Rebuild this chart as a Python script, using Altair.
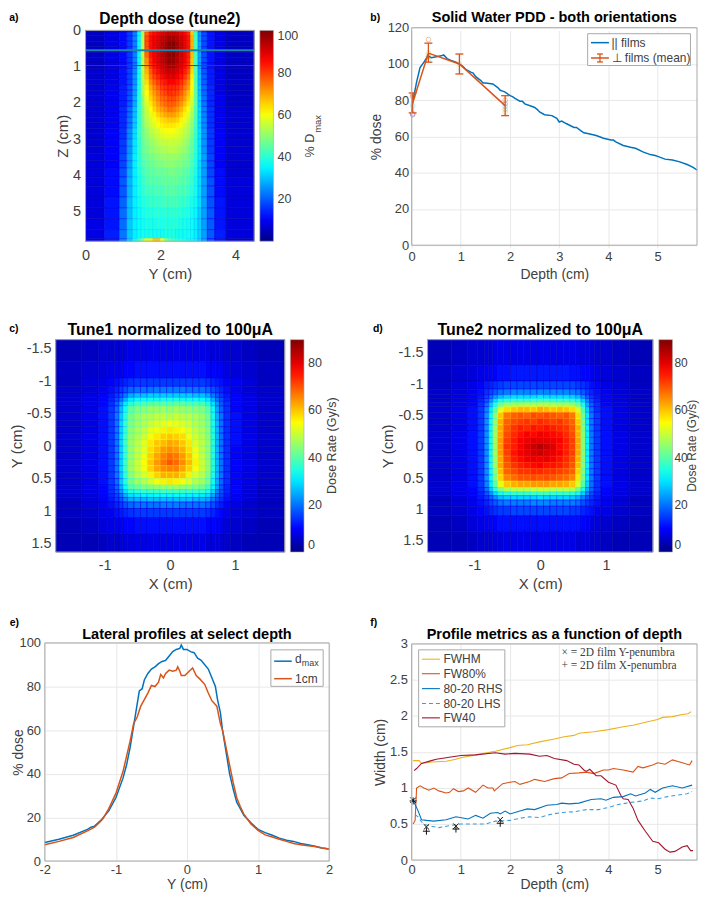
import altair as alt
import pandas as pd

FONT = "Liberation Sans"
TICK = "#404040"
FRAME = "#a8a8a8"
GRID = "#e8e8e8"
BLUE, ORANGE, YELLOW, WINE, LBLUE = "#0072BD", "#D95319", "#EDB120", "#A2142F", "#3D9BDC"

JET_F = [0.0, 0.1094, 0.3594, 0.6094, 0.8594, 1.0]
JET_C = ["#000084", "#0000ff", "#00ffff", "#ffff00", "#ff0000", "#800000"]

A_X = [0,0.5,0.9,1.1,1.25,1.38,1.48,1.58,1.7,1.8,1.9,2,2.1,2.2,2.3,2.4,2.5,2.6,2.7,2.8,2.9,3,3.1,3.25,3.45,3.75,4.5]
A_Y = [0,.04,.15,.3,.45,.6,.75,.9,1.05,1.2,1.35,1.5,1.65,1.8,1.95,2.1,2.25,2.4,2.55,2.7,2.85,3,3.2,3.4,3.6,3.8,4.05,4.3,4.6,4.9,5.2,5.5,5.75,5.82]
A_V = [
[5,7,10,14,20,30,45,62,68,70,72,74,75,76,76,75,73,70,66,52,35,24,16,11,7,5],
[6,9,12,17,24,36,52,76,83,85,87,89,91,92,92,91,88,86,82,66,42,27,19,13,9,6],
[6,9,12,17,24,36,53,78,85,87,89,92,94,96,96,94,91,88,84,68,43,27,19,13,9,6],
[6,9,12,17,24,36,54,78,85,88,90,93,96,99,100,96,92,88,84,68,43,28,19,13,9,6],
[6,9,12,17,24,36,54,77,85,87,90,93,97,99,99,96,92,88,84,68,43,28,19,13,9,6],
[6,9,12,17,24,36,54,75,84,87,90,93,96,98,99,95,91,88,83,67,43,28,19,13,9,6],
[6,9,12,17,24,36,54,72,82,86,89,92,95,98,97,94,90,87,82,66,43,28,19,13,9,6],
[6,9,12,17,24,36,54,70,80,84,87,90,93,96,96,92,89,85,80,65,43,28,19,13,9,6],
[7,9,13,18,25,37,54,68,77,82,85,88,91,92,92,90,87,83,78,64,44,29,20,14,9,6],
[7,9,13,18,26,38,53,66,75,79,82,85,88,89,90,87,84,80,75,62,44,30,21,14,9,6],
[7,9,13,18,26,38,53,64,72,76,79,82,84,86,86,84,81,77,72,61,44,30,21,14,9,6],
[7,10,14,19,27,39,52,62,69,73,76,79,81,82,82,81,78,74,70,60,45,31,22,15,9,6],
[7,10,14,19,27,39,52,61,67,71,74,77,79,81,80,79,76,72,67,59,45,31,22,15,9,6],
[7,10,14,20,28,40,50,59,65,69,72,75,76,78,78,76,73,70,65,57,45,32,23,15,10,6],
[7,10,14,20,28,40,50,58,63,67,70,73,75,76,76,74,71,67,63,56,45,32,23,15,10,6],
[7,10,15,22,30,41,49,56,61,65,68,70,72,74,73,71,68,64,60,54,44,33,24,16,10,7],
[7,10,15,22,30,41,49,55,59,62,65,67,69,70,70,68,65,62,58,53,44,33,24,16,10,7],
[7,10,15,23,31,41,48,54,57,60,62,64,65,66,66,65,62,59,56,51,43,33,25,16,10,7],
[7,10,15,23,31,41,48,53,56,58,60,62,63,63,63,62,60,57,54,50,43,33,25,16,10,7],
[7,11,16,25,33,42,47,51,54,56,57,59,60,60,60,59,57,55,53,49,42,34,26,17,11,7],
[7,11,16,25,33,42,47,50,53,54,56,57,58,58,58,57,56,54,52,48,42,34,26,17,11,7],
[7,11,17,26,34,41,46,49,51,52,54,55,55,56,55,55,54,52,50,47,41,34,26,17,11,7],
[7,11,17,26,34,41,46,48,50,51,52,53,53,54,54,53,52,51,49,46,41,34,26,17,11,7],
[8,11,18,27,35,41,45,47,48,49,50,51,51,51,51,51,50,49,48,45,40,34,27,18,11,7],
[8,11,18,27,35,41,44,46,47,48,49,49,50,50,50,49,49,48,47,44,40,33,27,18,11,7],
[8,12,19,28,35,40,43,45,46,46,47,47,47,48,48,47,47,46,45,43,39,33,27,18,12,7],
[8,12,20,29,35,39,42,44,45,45,45,46,46,46,46,46,45,45,44,42,38,33,27,19,12,8],
[8,12,20,29,35,39,41,43,43,44,44,44,45,45,45,44,44,44,43,41,38,33,27,19,12,8],
[8,13,21,30,35,38,40,41,42,42,42,43,43,43,43,43,42,42,41,39,37,33,27,19,13,8],
[8,13,22,30,35,37,39,40,40,41,41,41,41,41,41,41,41,40,40,38,36,32,27,20,13,8],
[9,13,22,31,35,37,38,39,39,39,40,40,40,40,40,40,39,39,38,37,35,32,27,20,13,8],
[9,14,23,31,35,37,38,38,38,38,38,38,39,39,39,38,38,38,38,37,35,32,27,20,14,8],
[9,14,24,32,38,43,50,58,62,66,66,60,50,46,44,42,41,40,38,38,36,33,28,20,14,8],
]
A_LINE_Z = [0.55, 0.97]

C_X = [-1.75,-1.35,-1.1,-0.95,-0.85,-0.78,-0.72,-0.65,-0.55,-0.45,-0.35,-0.25,-0.15,-0.05,0.05,0.15,0.25,0.35,0.45,0.55,0.63,0.7,0.76,0.83,0.93,1.1,1.35,1.76]
C_Y = [-1.64,-1.3,-1.05,-0.92,-0.82,-0.75,-0.69,-0.62,-0.52,-0.4,-0.3,-0.2,-0.1,0,0.1,0.2,0.3,0.4,0.5,0.6,0.67,0.73,0.79,0.86,0.96,1.1,1.35,1.63]
C_V = [
[4,5,6,6,7,7,7,8,8,8,8,8,8,8,8,8,8,8,8,8,7,7,7,6,6,5,4],
[5,6,7,8,9,9,10,10,11,11,11,11,11,11,11,11,11,11,11,10,10,9,9,8,7,6,5],
[5,7,8,10,11,12,13,14,15,15,15,15,15,15,15,15,15,15,15,14,13,12,11,10,9,7,5],
[6,7,9,11,13,15,17,19,20,20,20,21,21,21,21,21,20,20,20,19,17,15,13,11,9,7,6],
[6,8,10,12,15,18,21,25,27,27,28,28,28,28,28,28,28,27,27,25,21,18,15,12,10,8,6],
[6,8,10,13,17,21,26,31,33,34,34,34,35,35,35,34,34,34,33,31,26,21,17,13,10,8,6],
[6,8,10,14,19,25,31,36,39,40,40,41,41,41,41,41,40,40,39,36,30,24,18,14,10,8,6],
[6,8,11,15,20,27,34,41,44,45,46,46,47,46,47,46,46,45,44,41,33,25,19,14,10,8,6],
[6,8,11,15,21,28,36,43,46,48,48,49,50,49,50,49,49,48,46,43,34,26,20,14,11,8,6],
[6,8,11,15,21,29,37,44,47,49,50,52,53,54,53,52,51,49,47,44,35,27,20,14,11,8,6],
[6,8,11,15,21,29,37,45,48,50,53,54,56,57,56,55,53,50,48,45,35,27,20,14,11,8,6],
[6,8,11,15,21,29,38,45,48,51,54,57,59,60,59,58,54,51,48,45,36,27,20,14,11,8,6],
[6,8,11,15,21,29,38,46,49,53,57,60,61,63,62,60,57,52,49,46,36,27,20,14,11,8,6],
[6,8,11,15,21,29,38,46,50,53,58,61,64,65,64,62,58,54,49,46,36,27,20,14,10,8,6],
[6,8,11,15,21,29,38,46,50,54,59,63,66,68,67,64,60,55,50,46,36,27,20,14,10,8,6],
[6,8,11,15,21,29,38,46,50,55,60,64,67,70,68,65,61,56,50,46,36,27,20,14,10,8,6],
[6,8,11,15,21,29,38,46,50,54,59,63,65,66,66,63,59,55,50,46,36,27,20,14,10,8,6],
[6,8,11,15,21,28,37,45,49,52,56,59,62,62,62,60,56,52,49,45,35,27,20,14,10,8,6],
[6,8,11,15,20,28,36,43,47,49,51,54,56,57,56,54,52,49,47,43,34,26,19,14,10,8,6],
[6,8,10,14,19,26,33,40,42,44,44,45,46,46,46,45,45,44,42,39,32,25,18,13,10,7,5],
[6,8,10,14,18,24,30,35,37,38,38,38,39,39,39,38,38,38,37,35,29,22,17,13,10,7,5],
[6,7,10,13,16,21,26,30,31,32,32,33,33,33,33,33,32,32,31,30,25,20,16,12,9,7,5],
[5,7,9,12,15,18,22,25,26,26,27,27,27,27,27,27,27,26,26,25,21,17,14,11,9,7,5],
[5,7,9,11,13,15,17,19,20,20,20,20,21,21,21,20,20,20,20,19,17,14,12,10,8,6,5],
[5,6,8,9,11,12,13,14,15,15,15,15,15,15,15,15,15,15,15,14,13,11,10,9,7,6,5],
[4,5,7,8,9,9,10,10,11,11,11,11,11,11,11,11,11,11,11,10,10,9,8,7,6,5,4],
[4,4,5,6,6,7,7,7,8,8,8,8,8,8,8,8,8,8,8,7,7,7,6,6,5,4,4],
]

D_X = [-1.71,-1.35,-1.1,-0.95,-0.85,-0.78,-0.72,-0.65,-0.56,-0.45,-0.35,-0.25,-0.15,-0.05,0.05,0.15,0.25,0.35,0.45,0.54,0.62,0.69,0.75,0.82,0.92,1.1,1.35,1.71]
D_Y = [-1.71,-1.3,-1.05,-0.92,-0.83,-0.77,-0.71,-0.64,-0.55,-0.45,-0.35,-0.25,-0.15,-0.05,0.05,0.15,0.25,0.35,0.45,0.55,0.65,0.72,0.78,0.85,0.95,1.1,1.35,1.68]
D_V = [
[4,5,6,6,7,7,8,8,8,8,8,8,8,8,8,8,8,8,8,8,7,7,7,6,6,5,4],
[5,6,7,8,9,10,10,11,11,12,12,12,12,12,12,12,12,12,11,11,10,10,9,8,7,6,5],
[5,7,8,10,12,13,14,15,16,16,16,16,16,16,16,16,16,16,16,15,14,13,11,10,8,7,5],
[6,7,9,11,14,16,18,20,21,22,22,22,22,22,22,22,22,22,21,20,18,15,13,11,9,7,6],
[6,8,10,12,16,20,24,27,29,30,30,30,30,31,30,30,30,30,29,27,23,19,15,12,10,8,6],
[6,8,10,13,18,24,30,35,37,38,38,38,39,39,39,38,38,38,37,35,29,23,17,13,10,8,6],
[6,8,10,14,20,28,36,43,46,47,47,48,48,48,48,48,47,47,46,43,35,26,19,14,10,8,6],
[6,8,11,15,22,31,41,52,58,60,61,61,60,62,61,60,61,60,58,52,40,29,20,14,11,8,6],
[6,8,11,15,23,33,45,60,67,69,70,69,71,70,71,70,69,70,67,58,43,31,21,15,11,8,6],
[6,8,11,15,23,34,46,62,69,71,72,73,72,74,73,72,73,71,69,60,44,31,21,15,11,8,6],
[6,8,11,15,23,34,47,63,70,73,75,74,76,75,76,75,74,73,70,62,45,32,21,15,11,8,6],
[6,8,11,15,23,34,47,63,71,74,76,78,77,79,78,77,76,74,71,62,45,32,21,15,11,8,6],
[6,8,11,15,23,34,47,64,72,75,78,79,81,80,80,79,78,75,72,63,45,32,21,15,11,8,6],
[6,8,11,15,23,34,47,64,73,75,78,81,83,85,83,81,77,75,72,63,45,32,21,15,11,8,6],
[6,8,11,15,23,34,47,64,72,76,79,80,82,83,81,80,78,75,72,63,45,32,21,15,11,8,6],
[6,8,11,15,23,34,47,63,71,75,77,79,80,79,80,78,76,74,71,62,45,32,21,15,11,8,6],
[6,8,11,15,23,34,47,63,70,73,75,76,77,78,76,76,75,73,70,61,45,32,21,15,11,8,6],
[6,8,11,15,23,33,45,61,69,71,73,73,74,74,73,73,72,71,69,59,44,31,21,15,11,8,6],
[6,8,11,15,23,33,44,59,66,68,70,70,71,70,71,70,69,68,66,57,43,31,21,15,11,8,6],
[6,8,11,15,22,31,41,53,60,62,63,63,64,64,64,63,63,62,60,52,40,29,20,14,11,8,6],
[6,8,10,14,20,28,36,44,48,49,49,49,50,50,50,49,49,49,48,43,35,26,19,14,10,8,6],
[6,8,10,13,18,24,30,35,37,38,38,38,39,39,39,38,38,38,37,35,29,23,17,13,10,8,6],
[5,7,9,12,15,19,23,27,28,29,29,29,29,30,29,29,29,29,28,26,22,18,15,12,9,7,5],
[5,7,9,11,13,16,18,20,21,21,21,21,22,22,22,21,21,21,21,20,17,15,13,11,9,7,5],
[5,6,8,10,11,13,14,15,15,16,16,16,16,16,16,16,16,16,15,15,13,12,11,9,8,6,5],
[4,5,7,8,9,10,10,11,11,11,11,11,11,11,11,11,11,11,11,11,10,9,8,7,6,5,4],
[4,4,5,6,6,7,7,7,8,8,8,8,8,8,8,8,8,8,8,7,7,7,6,6,5,4,4],
]

B_X = [0,0.02,0.05,0.1,0.17,0.25,0.33,0.4,0.5,0.6,0.65,0.72,0.8,0.9,1.0,1.05,1.1,1.2,1.25,1.3,1.4,1.45,1.5,1.65,1.75,1.8,1.85,1.9,2,2.05,2.1,2.2,2.25,2.3,2.45,2.5,2.55,2.6,2.7,2.85,2.95,3,3.05,3.15,3.3,3.35,3.45,3.5,3.6,3.75,3.9,4.05,4.1,4.15,4.3,4.45,4.55,4.7,4.85,4.95,5,5.15,5.3,5.45,5.6,5.72,5.8]
B_Y = [73,80,83,90,98,101,104.5,103.5,104,104.5,105,103,102,101,99.5,98.5,97,95.5,95,93,91,89.5,89.5,89,87,85.5,85,84.5,82.5,82,81,79.5,79.5,78,76.5,76,75,73.5,72,71.5,70,68,68.5,67,65,65,63,62,61.5,60.5,59,58,58,57,55,54,53.5,51.5,50,49.5,49,47.5,47,46,44.5,43,41.5]
ERR_X = [0.02,0.34,0.97,1.9]
ERR_M = [78.5,106,100,77]
ERR_LO = [73,101,94.5,71.5]
ERR_HI = [84,111.5,105.5,82.5]
SC_X = [0.02,0.02,0.02,0.02,0.02,0.34,0.34,0.34,0.34,0.97,1.9,1.9,1.9,1.9,1.9]
SC_Y = [72,72.5,82,83,77,113.5,106,104,102,100,80,78,76.5,75,73.5]
SC_C = ["#7E2F8E","#7E2F8E","#D95319","#D95319","#4DBEEE","#D95319","#EDB120","#77AC30","#4DBEEE","#EDB120","#D95319","#7E2F8E","#4DBEEE","#77AC30","#EDB120"]

E1_X = [-2,-1.8,-1.6,-1.4,-1.35,-1.3,-1.2,-1.1,-1,-0.9,-0.85,-0.8,-0.75,-0.7,-0.67,-0.63,-0.6,-0.55,-0.5,-0.45,-0.4,-0.35,-0.3,-0.25,-0.2,-0.15,-0.1,-0.08,-0.05,0,0.05,0.1,0.15,0.2,0.25,0.3,0.35,0.4,0.43,0.47,0.5,0.55,0.6,0.65,0.7,0.75,0.8,0.9,1,1.1,1.2,1.3,1.4,1.5,1.6,1.7,1.8,1.9,2]
E1_Y = [8.5,10,11.8,14.5,15.5,16,19,23,29,38,44,52,62,72,78,79,83,86,88,89,90.5,91.5,92,94,96,97,97.5,99,97,97,96,95.5,93,92,90,88,84,80,74,68,60,50,40,33,27,24,21,17.5,14.5,13,11.8,10.5,9.5,9,8,7.5,6.8,6,5.5]
E2_X = [-2,-1.8,-1.6,-1.4,-1.3,-1.22,-1.18,-1.1,-1,-0.9,-0.85,-0.8,-0.75,-0.7,-0.65,-0.6,-0.55,-0.5,-0.45,-0.4,-0.37,-0.33,-0.3,-0.25,-0.2,-0.15,-0.13,-0.1,-0.08,-0.03,0,0.03,0.08,0.13,0.18,0.25,0.3,0.35,0.42,0.47,0.5,0.55,0.6,0.65,0.7,0.75,0.8,0.9,1,1.1,1.2,1.3,1.4,1.5,1.6,1.7,1.8,1.9,2]
E2_Y = [7.5,9,10.8,13.8,15.5,18,19.5,24,31,41,48,55,63,66,71,74,77,80.5,80,82,85.5,84,86,87.5,87,87.5,89,87,85,85,86,87,88.5,85,83.5,81,77,73.5,71,63,60,52,44,36,29,25,21.5,17,14,12,11,10,9,8,7.5,7,6.7,6,5.5]

FWHM_X = [0.03,0.15,0.2,0.4,0.7,0.9,1.0,1.3,1.7,2,2.15,2.35,2.6,2.9,3.1,3.3,3.4,3.7,4,4.3,4.5,4.8,5,5.1,5.3,5.5,5.62,5.68]
FWHM_Y = [1.38,1.38,1.34,1.36,1.37,1.40,1.42,1.46,1.51,1.56,1.59,1.6,1.64,1.68,1.71,1.73,1.76,1.78,1.81,1.85,1.87,1.92,1.95,1.98,1.99,2.02,2.03,2.06]
FW80_X = [0.03,0.07,0.1,0.17,0.25,0.35,0.45,0.55,0.7,0.77,0.85,0.95,1.05,1.15,1.3,1.45,1.55,1.65,1.68,1.85,2,2.1,2.2,2.4,2.5,2.7,2.9,3.05,3.2,3.4,3.55,3.7,3.9,4,4.1,4.3,4.5,4.6,4.7,4.9,5,5.15,5.3,5.45,5.6,5.65,5.7]
FW80_Y = [0.5,0.55,1.0,1.03,1.0,0.97,1.0,0.96,0.93,0.94,0.99,0.95,0.96,1.0,0.94,1.04,1.0,1.0,0.96,1.06,1.08,1.09,1.05,1.09,1.12,1.09,1.13,1.14,1.2,1.21,1.22,1.2,1.25,1.25,1.27,1.25,1.22,1.3,1.28,1.32,1.35,1.33,1.39,1.36,1.33,1.32,1.38]
RHS_X = [0,0.05,0.12,0.2,0.3,0.45,0.7,0.9,1.15,1.3,1.45,1.6,1.75,1.8,1.9,2,2.2,2.35,2.5,2.75,2.95,3.05,3.2,3.4,3.65,3.85,3.95,4.1,4.3,4.45,4.55,4.75,4.85,4.95,5.1,5.3,5.5,5.7]
RHS_Y = [0.83,0.8,0.7,0.56,0.55,0.54,0.56,0.6,0.57,0.62,0.58,0.65,0.66,0.64,0.68,0.64,0.68,0.71,0.7,0.76,0.77,0.79,0.78,0.79,0.84,0.85,0.83,0.87,0.88,0.92,0.89,0.93,0.98,0.94,1.0,1.03,1.0,1.04]
LHS_X = [0.07,0.13,0.2,0.28,0.4,0.55,0.8,1,1.2,1.5,1.7,2,2.2,2.4,2.6,2.8,3.05,3.3,3.55,3.8,4,4.2,4.45,4.7,4.85,5,5.2,5.4,5.6,5.7]
LHS_Y = [0.63,0.6,0.53,0.49,0.47,0.45,0.48,0.5,0.5,0.5,0.54,0.55,0.58,0.6,0.59,0.63,0.66,0.67,0.7,0.7,0.73,0.77,0.8,0.82,0.86,0.85,0.88,0.9,0.92,0.95]
FW40_X = [0.05,0.1,0.2,0.4,0.5,0.8,1,1.3,1.7,1.9,2.1,2.4,2.6,2.75,2.9,3.15,3.3,3.4,3.5,3.55,3.62,3.75,3.85,4,4.15,4.25,4.3,4.4,4.5,4.6,4.75,4.9,5.02,5.15,5.25,5.35,5.5,5.6,5.67,5.72]
FW40_Y = [1.24,1.27,1.34,1.38,1.4,1.43,1.45,1.46,1.49,1.47,1.48,1.47,1.44,1.45,1.41,1.38,1.33,1.32,1.25,1.23,1.26,1.17,1.17,1.08,1.04,0.9,0.85,0.84,0.72,0.55,0.4,0.26,0.24,0.15,0.11,0.12,0.18,0.2,0.13,0.13]
MARK_X = [0.03,0.3,0.9,1.8]
MARK_Y1 = [0.83,0.46,0.47,0.56]
MARK_Y2 = [0.82,0.40,0.43,0.51]

ONE = pd.DataFrame({"a": [0]})


def txt(s, x, y, size, color=TICK, align="left", bold=False, angle=0, font=FONT):
    kw = {"fontWeight": "bold"} if bold else {}
    return alt.Chart(ONE).mark_text(text=s, fontSize=size, font=font, color=color, align=align,
                                    baseline="middle", angle=angle, **kw).encode(
        x=alt.value(x), y=alt.value(y))


def hrule(x1, x2, y, color, width=1.5, dash=None):
    kw = {"strokeDash": dash} if dash else {}
    return alt.Chart(ONE).mark_rule(color=color, strokeWidth=width, **kw).encode(
        x=alt.value(x1), x2=alt.value(x2), y=alt.value(y))


def vrule(x, y1, y2, color, width=1.5):
    return alt.Chart(ONE).mark_rule(color=color, strokeWidth=width).encode(
        x=alt.value(x), y=alt.value(y1), y2=alt.value(y2))


def box(x1, x2, y1, y2, fill=None):
    if fill:
        m = alt.Chart(ONE).mark_rect(fill=fill, stroke=FRAME, strokeWidth=1)
    else:
        m = alt.Chart(ONE).mark_rect(fillOpacity=0, stroke=FRAME, strokeWidth=1)
    return m.encode(x=alt.value(x1), x2=alt.value(x2), y=alt.value(y1), y2=alt.value(y2))


def axis(title, values, size, pad, tpos, vertical, grid=False, tsize=14):
    kw = dict(title=title, values=values, labelFontSize=size, labelColor=TICK, labelFont=FONT,
              labelPadding=pad, labelFlush=False, labelOverlap=False, labelExpr='datum.value+""',
              domain=False, ticks=False, grid=grid, gridColor=GRID, titleFont=FONT, titleFontSize=tsize,
              titleFontWeight="normal", titleColor=TICK, titleBaseline="middle", titleAlign="center")
    if vertical:
        kw["titleX"] = tpos
    else:
        kw["titleY"] = tpos
    return alt.Axis(**kw)


def ttl(text, w, y, size):
    return txt(text, w / 2, y, size, "black", align="center", bold=True)


def heat(xe, ye, vals, xs, ys, xa, ya, vmin, vmax, lx, lvals, h, loff=4, lsize=12.6):
    rows = [dict(x0=xe[j], x1=xe[j + 1], y0=ye[i], y1=ye[i + 1], v=vals[i][j])
            for i in range(len(ye) - 1) for j in range(len(xe) - 1)]
    sc = alt.Scale(domain=[vmin + f * (vmax - vmin) for f in JET_F], range=JET_C, interpolate="rgb")
    leg = alt.Legend(orient="none", legendX=lx, legendY=0, direction="vertical", title=None, values=lvals,
                     gradientLength=h, gradientThickness=13.7, labelFontSize=lsize, labelFont=FONT,
                     labelColor=TICK, labelOffset=loff, labelBaseline="middle", gradientStrokeColor=FRAME,
                     gradientStrokeWidth=0.6, padding=0, offset=0, labelOverlap=False)
    return alt.Chart(pd.DataFrame(rows)).mark_rect(strokeWidth=0.6).encode(
        x=alt.X("x0:Q", scale=xs, axis=xa), x2="x1:Q",
        y=alt.Y("y0:Q", scale=ys, axis=ya), y2="y1:Q",
        color=alt.Color("v:Q", scale=sc, legend=leg),
        stroke=alt.Stroke("v:Q", scale=sc, legend=None))


def series(xs, ys, X, Y, color, width=1.5, dash=None):
    kw = {"strokeDash": dash} if dash else {}
    return alt.Chart(pd.DataFrame({"x": xs, "y": ys})).mark_line(color=color, strokeWidth=width, **kw).encode(
        x=alt.X("x:Q", scale=X[0], axis=X[1]), y=alt.Y("y:Q", scale=Y[0], axis=Y[1]))


# ------------ panel a ------------
WA, HA = 169.6, 212
sxa = alt.Scale(domain=[0, 4.5], nice=False, zero=False)
sya = alt.Scale(domain=[0, 5.82], nice=False, zero=False, reverse=True)
axa = axis("Y (cm)", [0, 2, 4], 14.5, 7, 32, False, tsize=15)
aya = axis("Z (cm)", [0, 1, 2, 3, 4, 5], 14.5, 5, -23, True, tsize=15)
a_heat = heat(A_X, A_Y, A_V, sxa, sya, axa, aya, 0.2, 100, 175.3, [20, 40, 60, 80, 100], HA)
a_lines = [
    alt.Chart(pd.DataFrame({"z": A_LINE_Z[:1]})).mark_rule(color="#1C86A8", strokeWidth=2).encode(
        y=alt.Y("z:Q", scale=sya, axis=aya)),
    alt.Chart(pd.DataFrame({"z": A_LINE_Z[1:]})).mark_rule(color=WINE, strokeWidth=1).encode(
        y=alt.Y("z:Q", scale=sya, axis=aya)),
]
panel_a = alt.layer(a_heat, *a_lines, box(0, WA, 0, HA),
                    ttl("Depth dose (tune2)", WA, -11, 15.7),
                    txt("a)", -76.7, -12, 10.5, "black", bold=True),
                    txt("% D", 225.3, 127.7, 12.6, angle=270),
                    txt("max", 234.3, 103, 9.5, angle=270)
                    ).properties(width=WA, height=HA)

# ------------ panel b (origin at y=29 of the page, top of its axis 2.7 px higher) ------------
WB, HB, TB = 287, 216, -2.7
sxb = alt.Scale(domain=[0, 5.8], nice=False, zero=False)
syb = alt.Scale(domain=[0, 120], nice=False, zero=False, range=[HB, TB])
axb = axis("Depth (cm)", [0, 1, 2, 3, 4, 5], 13, 5, 29, False, grid=True)
ayb = axis("% dose", [0, 20, 40, 60, 80, 100, 120], 13, 3, -35, True, grid=True)
Xb = (sxb, axb)
Yb = (syb, ayb)
b_sc = alt.Chart(pd.DataFrame({"x": SC_X, "y": SC_Y, "c": SC_C})).mark_point(
    filled=False, size=22, strokeWidth=0.8, opacity=0.45).encode(
    x=alt.X("x:Q", scale=sxb, axis=axb), y=alt.Y("y:Q", scale=syb, axis=ayb),
    color=alt.Color("c:N", scale=None))
errs = pd.DataFrame({"x": ERR_X, "m": ERR_M, "lo": ERR_LO, "hi": ERR_HI})
b_err = alt.Chart(errs).mark_rule(color=ORANGE, strokeWidth=1.3).encode(
    x=alt.X("x:Q", scale=sxb, axis=axb), y=alt.Y("lo:Q", scale=syb, axis=ayb), y2="hi:Q")
b_c1 = alt.Chart(errs).mark_tick(color=ORANGE, thickness=1.3, size=8, orient="horizontal", opacity=1).encode(
    x=alt.X("x:Q", scale=sxb, axis=axb), y=alt.Y("lo:Q", scale=syb, axis=ayb))
b_c2 = alt.Chart(errs).mark_tick(color=ORANGE, thickness=1.3, size=8, orient="horizontal", opacity=1).encode(
    x=alt.X("x:Q", scale=sxb, axis=axb), y=alt.Y("hi:Q", scale=syb, axis=ayb))
panel_b = alt.layer(
    series(B_X, B_Y, Xb, Yb, BLUE), b_sc,
    series(ERR_X, ERR_M, Xb, Yb, ORANGE), b_err, b_c1, b_c2,
    box(0, WB, TB, HB),
    box(177, 280.4, 6 + TB, 38 + TB, "white"),
    hrule(180.4, 198.4, 15 + TB, BLUE), hrule(180.4, 198.4, 30.4 + TB, ORANGE),
    vrule(189.4, 26.4 + TB, 34.4 + TB, ORANGE, 1.3), hrule(186.4, 192.4, 26.4 + TB, ORANGE, 1.3),
    hrule(186.4, 192.4, 34.4 + TB, ORANGE, 1.3),
    txt("|| films", 201, 15 + TB, 12), txt("⊥ films (mean)", 201, 30.4 + TB, 12),
    ttl("Solid Water PDD - both orientations", WB, -9.3 + TB, 14.6),
    txt("b)", -41.6, -12, 10.5, "black", bold=True),
).properties(width=WB, height=HB)

# ------------ panel c ------------
WC, HC = 230.3, 213.6
sxc = alt.Scale(domain=[-1.75, 1.76], nice=False, zero=False)
syc = alt.Scale(domain=[-1.64, 1.63], nice=False, zero=False, reverse=True)
axc = axis("X (cm)", [-1, 0, 1], 14.5, 7, 31.7, False, tsize=15)
ayc = axis("Y (cm)", [-1.5, -1, -0.5, 0, 0.5, 1, 1.5], 14.5, 4.7, -39.2, True, tsize=15)
c_heat = heat(C_X, C_Y, C_V, sxc, syc, axc, ayc, 0, 90, 236, [0, 20, 40, 60, 80], HC)
panel_c = alt.layer(c_heat, box(0, WC, 0, HC),
                    ttl("Tune1 normalized to 100μA", WC, -9.7, 16),
                    txt("c)", -46.7, -11, 10.5, "black", bold=True),
                    txt("Dose Rate (Gy/s)", 278, 106.7, 12.6, align="center", angle=270),
                    ).properties(width=WC, height=HC)

# ------------ panel d ------------
WD, HD = 226.6, 213.6
sxd = alt.Scale(domain=[-1.71, 1.71], nice=False, zero=False)
syd = alt.Scale(domain=[-1.71, 1.68], nice=False, zero=False, reverse=True)
axd = axis("X (cm)", [-1, 0, 1], 14.5, 7, 31.7, False, tsize=15)
ayd = axis("Y (cm)", [-1.5, -1, -0.5, 0, 0.5, 1, 1.5], 14.5, 4.7, -40, True, tsize=15)
d_heat = heat(D_X, D_Y, D_V, sxd, syd, axd, ayd, 0, 90, 232.6, [0, 20, 40, 60, 80], HD, loff=2, lsize=12)
panel_d = alt.layer(d_heat, box(0, WD, 0, HD),
                    ttl("Tune2 normalized to 100μA", WD, -9.7, 16),
                    txt("d)", -55, -11, 10.5, "black", bold=True),
                    txt("Dose Rate (Gy/s)", 266.3, 106.7, 12, align="center", angle=270),
                    ).properties(width=WD, height=HD)

# ------------ panel e ------------
WE, HE = 286, 219.4
sxe = alt.Scale(domain=[-2, 2], nice=False, zero=False)
sye = alt.Scale(domain=[0, 100], nice=False, zero=False)
Xe = (sxe, axis("Y (cm)", [-2, -1, 0, 1, 2], 13, 3, 24, False, grid=True))
Ye = (sye, axis("% dose", [0, 20, 40, 60, 80, 100], 13, 4.3, -26.5, True, grid=True))
panel_e = alt.layer(
    series(E1_X, E1_Y, Xe, Ye, BLUE), series(E2_X, E2_Y, Xe, Ye, ORANGE),
    box(0, WE, 0, HE),
    box(227.4, 280, 7, 43.7, "white"),
    hrule(230.7, 248.4, 18.4, BLUE), hrule(230.7, 248.4, 36, ORANGE),
    txt("d", 251.7, 16, 12), txt("max", 258.5, 20.5, 9), txt("1cm", 251.7, 36, 12),
    ttl("Lateral profiles at select depth", WE, -8.3, 14.6),
    txt("e)", -35.3, -19.6, 10.5, "black", bold=True),
).properties(width=WE, height=HE)

# ------------ panel f (origin level with panel e, top of its axis 1 px lower) ------------
WF, HF, TF = 287, 218.4, 1
sxf = alt.Scale(domain=[0, 5.8], nice=False, zero=False)
syf = alt.Scale(domain=[0, 3], nice=False, zero=False, range=[HF, TF])
axf = axis("Depth (cm)", [0, 1, 2, 3, 4, 5], 13, 4, 25, False, grid=True)
ayf = axis("Width (cm)", [0, 0.5, 1, 1.5, 2, 2.5, 3], 13, 4.3, -31.6, True, grid=True)
Xf = (sxf, axf)
Yf = (syf, ayf)
marks = pd.DataFrame({"x": MARK_X, "y1": MARK_Y1, "y2": MARK_Y2})
f_x = alt.Chart(marks).mark_point(shape="M-1,-1L1,1M-1,1L1,-1", size=30, color="#111111", strokeWidth=1, opacity=1).encode(
    x=alt.X("x:Q", scale=sxf, axis=axf), y=alt.Y("y1:Q", scale=syf, axis=ayf))
f_p = alt.Chart(marks).mark_point(shape="M-1,0L1,0M0,-1L0,1", size=50, color="#111111", strokeWidth=1, opacity=1).encode(
    x=alt.X("x:Q", scale=sxf, axis=axf), y=alt.Y("y2:Q", scale=syf, axis=ayf))
panel_f = alt.layer(
    series(FWHM_X, FWHM_Y, Xf, Yf, YELLOW, 1.1),
    series(FW80_X, FW80_Y, Xf, Yf, ORANGE, 1.1),
    series(RHS_X, RHS_Y, Xf, Yf, BLUE, 1.1),
    series(LHS_X, LHS_Y, Xf, Yf, LBLUE, 1.1, [4, 3]),
    series(FW40_X, FW40_Y, Xf, Yf, WINE, 1.1),
    f_x, f_p,
    box(0, WF, TF, HF),
    box(7, 93.7, 6 + TF, 83.4 + TF, "white"),
    hrule(10.4, 28.4, 15.4 + TF, YELLOW, 1.1), hrule(10.4, 28.4, 30 + TF, ORANGE, 1.1), hrule(10.4, 28.4, 45 + TF, BLUE, 1.1),
    hrule(10.4, 28.4, 60 + TF, LBLUE, 1.1, [4, 3]), hrule(10.4, 28.4, 74.4 + TF, WINE, 1.1),
    txt("FWHM", 32, 15.4 + TF, 12), txt("FW80%", 32, 30 + TF, 12), txt("80-20 RHS", 32, 45 + TF, 12),
    txt("80-20 LHS", 32, 60 + TF, 12), txt("FW40", 32, 74.4 + TF, 12),
    txt("× = 2D film Y-penumbra", 150.7, 9.4 + TF, 11.5, font="Liberation Serif"),
    txt("+ = 2D film X-penumbra", 150.7, 22 + TF, 11.5, font="Liberation Serif"),
    ttl("Profile metrics as a function of depth", WF, -9.3 + TF, 14.6),
    txt("f)", -41.6, -19.6, 10.5, "black", bold=True),
).properties(width=WF, height=HF)


def gap(w, h):
    return alt.Chart(ONE).mark_text(text=" ", opacity=0).properties(width=w, height=h)


def row(p1, g, p2):
    return alt.hconcat(gap(0.01, 1), p1, gap(g, 1), p2, spacing=0).resolve_scale(
        color="independent", x="independent", y="independent")


row1 = row(panel_a, 46.3, panel_b)
row2 = row(panel_c, 33.7, panel_d)
row3 = row(panel_e, 37, panel_f)
chart = alt.vconcat(row1, gap(1, 40.4), row2, gap(1, 25.2), row3, spacing=0).properties(padding=0).configure_view(strokeWidth=0)

chart.save("out.html", embed_options={"renderer": "svg", "actions": False})
